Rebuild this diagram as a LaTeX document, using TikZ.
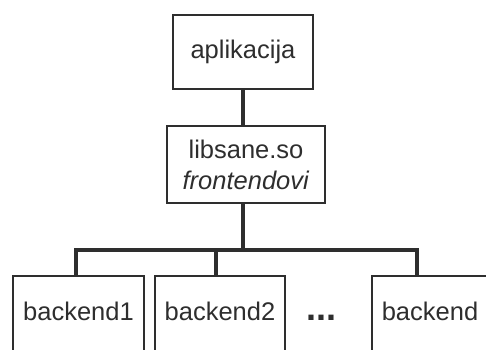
\documentclass[tikz,border=0pt]{standalone}
\usepackage{fontspec}
\setmainfont{Liberation Sans}
\usetikzlibrary{calc}
\definecolor{ink}{HTML}{2E2E2E}
\tikzset{
  box/.style={draw=ink, line width=1.8pt, text=ink, inner sep=0pt,
    font=\fontsize{25.5}{31}\selectfont, align=center},
  lowerbox/.style={box, anchor=north, text height=45pt, text depth=80pt},
  wire/.style={draw=ink, line width=3.6pt},
}
\begin{document}
\begin{tikzpicture}[x=1pt, y=-1pt]
  \useasboundingbox (0,0) rectangle (486,349);
  \clip (0,0) rectangle (486,349);

  % front end: application and the SANE library
  \node[box, minimum width=140pt, minimum height=74pt] (app) at (243,52) {aplikacija};
  \node[box, minimum width=158pt, minimum height=77pt] (lib) at (246,164.5)
    {libsane.so\\\textit{frontendovi}};

  % back ends, running past the lower edge
  \node[lowerbox, minimum width=131pt] (b1) at (78.5,275) {backend1};
  \node[lowerbox, minimum width=130pt] (b2) at (220,275) {backend2};
  \node[lowerbox, minimum width=116pt] (b3) at (430,275) {backend};
  \node[text=ink, font=\fontsize{36}{36}\selectfont\bfseries] (dots) at (321.5,318) {...};

  % tree of connectors
  \coordinate (bus) at (243,250);
  \draw[wire] (app.south) -- (app.south |- lib.north);
  \draw[wire] (lib.south -| bus) -- (bus);
  \draw[wire] ([xshift=-2.5pt]b1.north) |- (bus) -| ([xshift=-13pt]b3.north);
  \draw[wire] ([xshift=-4pt]b2.north) -- ([xshift=-4pt]b2.north |- bus);
\end{tikzpicture}
\end{document}
